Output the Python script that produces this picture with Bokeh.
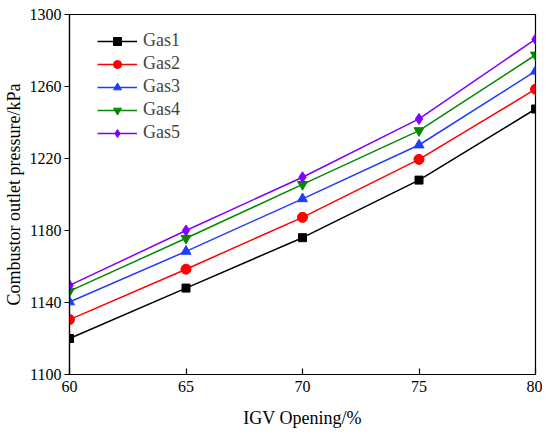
from bokeh.plotting import figure
from bokeh.embed import file_html
from bokeh.resources import INLINE
from bokeh.models import Legend, LegendItem, FixedTicker, Range1d

x_vals = [60, 65, 70, 75, 80]
gas1 = [1120, 1148, 1176, 1208, 1247.5]
gas2 = [1130.5, 1158.5, 1187.3, 1219.5, 1258.5]
gas3 = [1140.3, 1168.4, 1197.6, 1227.5, 1268.5]
gas4 = [1146.3, 1175.7, 1205.6, 1235.5, 1277.5]
gas5 = [1149.5, 1180, 1209.6, 1242, 1286.3]
names = ["Gas1", "Gas2", "Gas3", "Gas4", "Gas5"]
x_ticks = [60, 65, 70, 75, 80]
y_ticks = [1100, 1140, 1180, 1220, 1260, 1300]

series = [gas1, gas2, gas3, gas4, gas5]
colors = ["#000000", "#ff0000", "#1f3cff", "#008a00", "#8000ff"]
markers = ["square", "circle", "triangle", "inverted_triangle", "diamond"]
msizes = [8, 10, 10, 10, 11]

FONT = "Liberation Serif"

p = figure(width=534, height=426, output_backend="svg", toolbar_location=None,
           x_range=Range1d(60, 80), y_range=Range1d(1100, 1300),
           min_border_left=61, min_border_right=7, min_border_top=14, min_border_bottom=52)
p.frame_width = 466
p.frame_height = 360

p.xgrid.visible = False
p.ygrid.visible = False
p.outline_line_color = "black"
p.outline_line_width = 1.2
p.background_fill_color = "white"
p.border_fill_color = "white"

items = []
for name, ys, c, m, s in zip(names, series, colors, markers, msizes):
    r1 = p.line(x_vals, ys, line_color=c, line_width=1.5)
    r2 = p.scatter(x_vals, ys, marker=m, size=s, fill_color=c, line_color=c)
    items.append(LegendItem(label=name, renderers=[r1, r2]))

legend = Legend(items=items, location=(28, 231), margin=0, padding=0,
                glyph_width=40, glyph_height=20, label_height=20, spacing=2,
                label_standoff=6, border_line_color=None, background_fill_alpha=0,
                label_text_font=FONT, label_text_font_size="18px")
p.add_layout(legend, "center")

for ax in (p.xaxis[0], p.yaxis[0]):
    ax.axis_line_color = "black"
    ax.axis_line_width = 1.2
    ax.major_tick_line_color = "black"
    ax.major_tick_line_width = 1.2
    ax.minor_tick_line_color = None
    ax.major_label_text_font = FONT
    ax.major_label_text_font_size = "16px"
    ax.major_label_text_color = "black"
    ax.axis_label_text_font = FONT
    ax.axis_label_text_font_size = "18px"
    ax.axis_label_text_font_style = "normal"
    ax.axis_label_text_color = "black"

p.xaxis.ticker = FixedTicker(ticks=x_ticks)
p.yaxis.ticker = FixedTicker(ticks=y_ticks)
p.xaxis.major_tick_in = 6
p.xaxis.major_tick_out = 0
p.yaxis.major_tick_in = 0
p.yaxis.major_tick_out = 5
p.xaxis.major_label_standoff = 6
p.yaxis.major_label_standoff = 3
p.xaxis.axis_label = "IGV Opening/%"
p.yaxis.axis_label = "Combustor outlet pressure/kPa"
p.xaxis.axis_label_standoff = 13
p.yaxis.axis_label_standoff = 3

open("out.html", "w").write(file_html(p, INLINE))
